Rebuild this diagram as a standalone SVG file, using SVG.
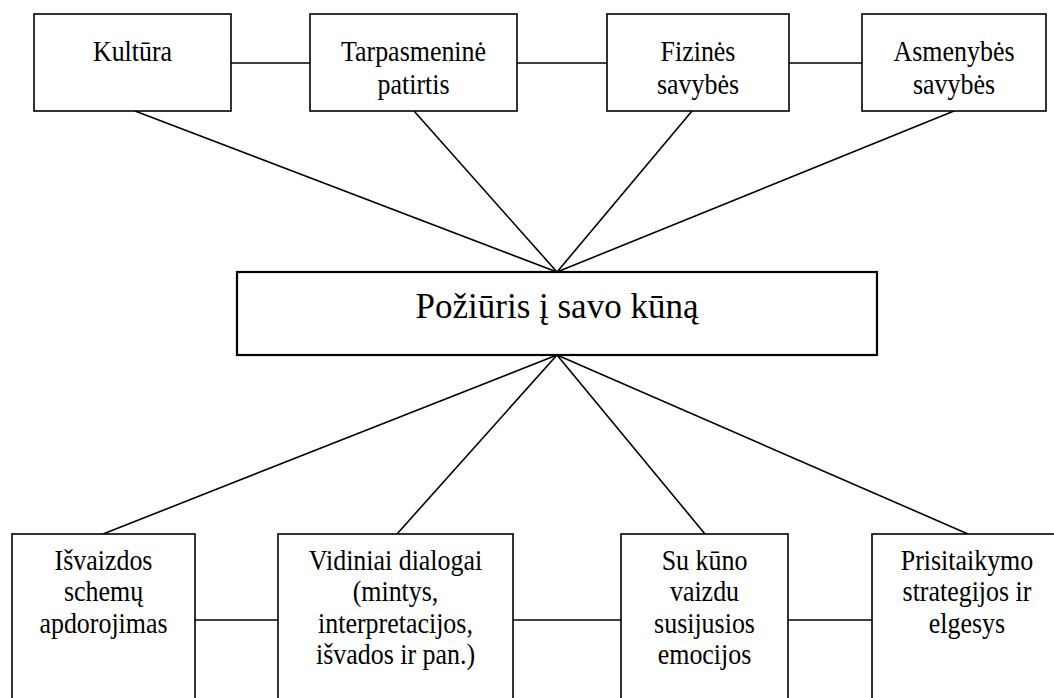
<svg xmlns="http://www.w3.org/2000/svg" width="1054" height="698" viewBox="0 0 1054 698">
<style>
rect{fill:#fff;stroke:#000;stroke-width:1.6}
#center rect{stroke-width:2.2}
line{stroke:#000;stroke-width:1.6}
text{font-family:"Liberation Serif","Times New Roman",serif;font-size:28.5px;fill:#000;text-anchor:middle}
#center text{font-size:35px}
</style>
<rect x="0" y="0" width="1054" height="698" style="stroke:none"/>
<g id="connectors">
<line x1="231" y1="63" x2="310" y2="63"/>
<line x1="517" y1="63" x2="607" y2="63"/>
<line x1="789" y1="63" x2="862" y2="63"/>
<line x1="135" y1="111" x2="557" y2="272"/>
<line x1="414" y1="111" x2="557" y2="272"/>
<line x1="692" y1="111" x2="557" y2="272"/>
<line x1="954" y1="111" x2="557" y2="272"/>
<line x1="557" y1="355" x2="103" y2="534"/>
<line x1="557" y1="355" x2="397" y2="534"/>
<line x1="557" y1="355" x2="705" y2="534"/>
<line x1="557" y1="355" x2="968" y2="534"/>
<line x1="195" y1="620" x2="278" y2="620"/>
<line x1="513" y1="620" x2="621" y2="620"/>
<line x1="788" y1="620" x2="872" y2="620"/>
</g>
<g id="kultura">
<rect x="34" y="14" width="197" height="97"/>
<g transform="translate(132.5,0) scale(0.91,1)"><text x="0" y="61">Kultūra</text></g>
</g>
<g id="tarpasmenine">
<rect x="310" y="14" width="207" height="97"/>
<g transform="translate(413.5,0) scale(0.91,1)"><text x="0" y="61">Tarpasmeninė</text><text x="0" y="94">patirtis</text></g>
</g>
<g id="fizines">
<rect x="607" y="14" width="182" height="97"/>
<g transform="translate(698,0) scale(0.91,1)"><text x="0" y="61">Fizinės</text><text x="0" y="94">savybės</text></g>
</g>
<g id="asmenybes">
<rect x="862" y="14" width="184" height="97"/>
<g transform="translate(954,0) scale(0.91,1)"><text x="0" y="61">Asmenybės</text><text x="0" y="94">savybės</text></g>
</g>
<g id="center">
<rect x="237" y="272" width="640" height="83"/>
<text x="557" y="318">Požiūris į savo kūną</text>
</g>
<g id="isvaizdos">
<rect x="12" y="534" width="183" height="190"/>
<g transform="translate(103.5,0) scale(0.91,1)"><text x="0" y="570">Išvaizdos</text><text x="0" y="601.5">schemų</text><text x="0" y="633">apdorojimas</text></g>
</g>
<g id="vidiniai">
<rect x="278" y="534" width="235" height="190"/>
<g transform="translate(395.5,0) scale(0.91,1)"><text x="0" y="570">Vidiniai dialogai</text><text x="0" y="601.5">(mintys,</text><text x="0" y="633">interpretacijos,</text><text x="0" y="664.5">išvados ir pan.)</text></g>
</g>
<g id="sukuno">
<rect x="621" y="534" width="167" height="190"/>
<g transform="translate(704.5,0) scale(0.91,1)"><text x="0" y="570">Su kūno</text><text x="0" y="601.5">vaizdu</text><text x="0" y="633">susijusios</text><text x="0" y="664.5">emocijos</text></g>
</g>
<g id="prisitaikymo">
<rect x="872" y="534" width="190" height="190"/>
<g transform="translate(967,0) scale(0.91,1)"><text x="0" y="570">Prisitaikymo</text><text x="0" y="601.5">strategijos ir</text><text x="0" y="633">elgesys</text></g>
</g>
</svg>
